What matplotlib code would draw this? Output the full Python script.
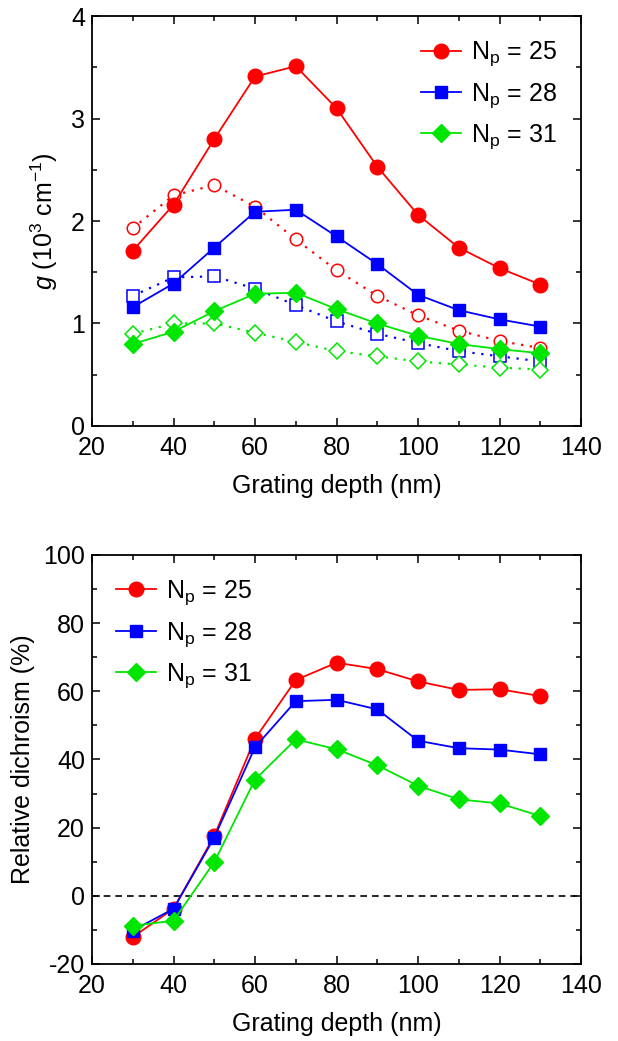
import matplotlib
matplotlib.use("Agg")
import matplotlib.pyplot as plt
from matplotlib.ticker import MultipleLocator

plt.rcParams['font.family'] = ['Liberation Sans', 'DejaVu Sans']
plt.rcParams['mathtext.fontset'] = 'custom'
plt.rcParams['mathtext.rm'] = 'Liberation Sans'
plt.rcParams['mathtext.it'] = 'Liberation Sans:italic'
plt.rcParams['axes.unicode_minus'] = False

depth = [30, 40, 50, 60, 70, 80, 90, 100, 110, 120, 130]

# gain, solid symbols
g25 = [1.71, 2.16, 2.80, 3.41, 3.51, 3.10, 2.53, 2.06, 1.74, 1.54, 1.38]
g28 = [1.16, 1.39, 1.74, 2.09, 2.11, 1.85, 1.58, 1.28, 1.13, 1.04, 0.97]
g31 = [0.80, 0.92, 1.12, 1.29, 1.30, 1.14, 1.00, 0.88, 0.80, 0.75, 0.71]
# gain, open symbols
g25o = [1.93, 2.25, 2.35, 2.14, 1.82, 1.52, 1.27, 1.08, 0.93, 0.83, 0.76]
g28o = [1.27, 1.45, 1.46, 1.34, 1.18, 1.02, 0.90, 0.81, 0.73, 0.68, 0.63]
g31o = [0.90, 1.00, 1.00, 0.91, 0.82, 0.73, 0.68, 0.63, 0.60, 0.57, 0.55]

# relative dichroism (%)
rd25 = [-12.1, -3.8, 17.6, 46.1, 63.3, 68.4, 66.5, 62.9, 60.4, 60.6, 58.6]
rd28 = [-10.2, -3.8, 17.1, 43.6, 57.1, 57.5, 54.7, 45.5, 43.3, 42.9, 41.5]
rd31 = [-8.8, -7.3, 9.9, 34.1, 45.9, 43.0, 38.3, 32.3, 28.3, 27.1, 23.4]

labels = ['N$_\\mathregular{p}$ = 25', 'N$_\\mathregular{p}$ = 28', 'N$_\\mathregular{p}$ = 31']
colors = ['#ff0000', '#0000ff', '#00e600']
markers = ['o', 's', 'D']
msize = [10.5, 8.5, 9]
osize = [9, 8, 8]

FS = 18

fig = plt.figure(figsize=(6.18, 10.41), dpi=100)
ax1 = fig.add_axes([0.1489, 0.5908, 0.7913, 0.3938])
ax2 = fig.add_axes([0.1489, 0.0740, 0.7913, 0.3929])


def style(ax, ymajor, yminor):
    ax.xaxis.set_major_locator(MultipleLocator(20))
    ax.xaxis.set_minor_locator(MultipleLocator(10))
    ax.yaxis.set_major_locator(MultipleLocator(ymajor))
    ax.yaxis.set_minor_locator(MultipleLocator(yminor))
    ax.tick_params(which='both', direction='in', top=True, right=True,
                   labelsize=FS, width=1.1)
    ax.tick_params(axis='x', which='both', pad=7)
    ax.tick_params(axis='y', which='both', pad=5)
    ax.tick_params(which='major', length=6)
    ax.tick_params(which='minor', length=3.5)
    for s in ax.spines.values():
        s.set_linewidth(1.3)


def legend(ax, loc):
    ax.legend(loc=loc, frameon=False, fontsize=FS, handlelength=1.6,
              handletextpad=0.4, labelspacing=0.5, borderaxespad=0.55)


# top panel
for ys, c, m, s, lab in zip([g25, g28, g31], colors, markers, msize, labels):
    ax1.plot(depth, ys, color=c, marker=m, ms=s, lw=1.3, label=lab, zorder=3)
for ys, c, m, s in zip([g25o, g28o, g31o], colors, markers, osize):
    ax1.plot(depth, ys, color=c, marker=m, ms=s, lw=1.6, ls=(0, (1, 3)),
             mfc='white', mew=1.1, zorder=2)
ax1.set_xlim(20, 140)
ax1.set_ylim(0, 4)
style(ax1, 1, 0.5)
ax1.set_xlabel('Grating depth (nm)', fontsize=FS, labelpad=10)
ax1.set_ylabel('$\\mathit{g}$ (10$^\\mathregular{3}$ cm$^\\mathregular{-1}$)', fontsize=FS, labelpad=8)
legend(ax1, 'upper right')

# bottom panel
for ys, c, m, s, lab in zip([rd25, rd28, rd31], colors, markers, msize, labels):
    ax2.plot(depth, ys, color=c, marker=m, ms=s, lw=1.3, label=lab, zorder=3)
ax2.axhline(0, color='black', lw=1.2, ls=(0, (4, 3)), zorder=1)
ax2.set_xlim(20, 140)
ax2.set_ylim(-20, 100)
style(ax2, 20, 10)
ax2.set_xlabel('Grating depth (nm)', fontsize=FS, labelpad=10)
ax2.set_ylabel('Relative dichroism (%)', fontsize=FS, labelpad=6)
legend(ax2, 'upper left')

fig.savefig('out.png', dpi=100)
